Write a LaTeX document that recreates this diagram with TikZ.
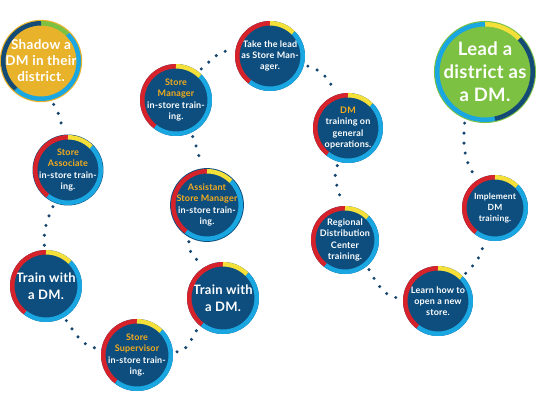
\documentclass[tikz,border=0pt]{standalone}
\usepackage{fontspec}
\setmainfont{Lato}[LetterSpace=2]
\definecolor{navyfill}{HTML}{0D4E7E}
\definecolor{dotblue}{HTML}{16466F}
\definecolor{ringred}{HTML}{D6232B}
\definecolor{ringyellow}{HTML}{F5E03A}
\definecolor{ringblue}{HTML}{1AA6E0}
\definecolor{ringgreen}{HTML}{7DC143}
\definecolor{ringnavy}{HTML}{144A76}
\definecolor{goldfill}{HTML}{E8B22B}
\definecolor{greenfill}{HTML}{7CC142}
\definecolor{headorange}{HTML}{F6AC1B}
\newcommand{\ringarc}[5]{%
  \draw[#3, line width=4.5pt] ([shift={(#4:#2)}]#1.center) arc[start angle=#4, end angle=#5, radius=#2];}
\newcommand{\stdring}[2]{%
  \ringarc{#1}{#2}{ringred}{90}{232}%
  \ringarc{#1}{#2}{ringblue}{232}{405}%
  \ringarc{#1}{#2}{ringyellow}{45}{90}}
\newcommand{\hd}[1]{\textcolor{headorange}{#1}}
\begin{document}
\begin{tikzpicture}[x=1pt,y=1pt,
  stage/.style={circle, fill=navyfill, inner sep=0pt, text=white, align=center,
    font=\fontsize{9}{11.2}\selectfont\bfseries},
  bigtext/.style={font=\fontsize{13}{16.5}\selectfont\bfseries},
  dotpath/.style={draw=dotblue, line width=3.4pt, line cap=round,
    dash pattern=on 0pt off 10pt, shorten <=4pt, shorten >=4pt}]
\useasboundingbox (0,0) rectangle (536,-402);
% nodes
\node[stage, fill=goldfill, minimum size=80pt, font=\fontsize{13.5}{16}\selectfont\bfseries] (shadow) at (41,-61) {Shadow a\\DM in their\\district.};
\node[stage, minimum size=70pt] (assoc) at (68,-170) {\hd{Store}\\\hd{Associate}\\in-store train-\\ing.};
\node[stage, minimum size=72pt, bigtext] (train1) at (46,-286) {Train with\\a DM.};
\node[stage, minimum size=72pt] (super) at (137,-355) {\hd{Store}\\\hd{Supervisor}\\in-store train-\\ing.};
\node[stage, minimum size=72pt, bigtext] (train2) at (223,-298) {Train with\\a DM.};
\node[stage, minimum size=72pt] (asst) at (207,-205) {\hd{Assistant}\\\hd{Store Manager}\\in-store train-\\ing.};
\node[stage, minimum size=72pt] (mgr) at (176,-100) {\hd{Store}\\\hd{Manager}\\in-store train-\\ing.};
\node[stage, minimum size=70pt] (take) at (270,-56) {Take the lead\\as Store Man-\\ager.};
\node[stage, minimum size=70pt] (dm) at (348,-128) {\hd{DM}\\training on\\general\\operations.};
\node[stage, minimum size=68pt] (reg) at (345,-240) {Regional\\Distribution\\Center\\training.};
\node[stage, minimum size=70pt] (learn) at (438,-301) {Learn how to\\open a new\\store.};
\node[stage, minimum size=66pt, font=\fontsize{8.5}{10.7}\selectfont\bfseries] (impl) at (495,-208) {Implement\\DM\\training.};
\node[stage, fill=greenfill, minimum size=100pt, font=\fontsize{18.5}{23}\selectfont\bfseries] (lead) at (485,-72) {Lead a\\district as\\a DM.};
% rings
\ringarc{shadow}{37.75}{ringgreen}{45}{90}
\ringarc{shadow}{37.75}{ringblue}{-132}{45}
\ringarc{shadow}{37.75}{ringnavy}{90}{228}
\stdring{assoc}{32.75}
\stdring{train1}{33.75}
\stdring{super}{33.75}
\stdring{train2}{33.75}
\stdring{asst}{33.75}
\stdring{mgr}{33.75}
\stdring{take}{32.75}
\stdring{dm}{32.75}
\stdring{reg}{31.75}
\stdring{learn}{32.75}
\stdring{impl}{30.75}
\ringarc{lead}{47.75}{ringyellow}{44}{90}
\ringarc{lead}{47.75}{ringblue}{90}{282}
\ringarc{lead}{47.75}{ringnavy}{-78}{44}
% dotted connectors
\draw[dotpath] (shadow.-75) to[out=-60, in=90] (assoc.100);
\draw[dotpath] (assoc.-112) to[out=-115, in=95] (train1.92);
\draw[dotpath] (train1.-60) to[out=-55, in=175] (super.170);
\draw[dotpath] (super.5) to[out=0, in=-125] (train2.-130);
\draw[dotpath] (asst.-118) to[out=-100, in=150] (train2.118);
\draw[dotpath] (mgr.-65) to[out=-70, in=95] (asst.100);
\draw[dotpath] (mgr.52) to[out=40, in=175] (take.172);
\draw[dotpath] (take.-15) to[out=-15, in=105] (dm.112);
\draw[dotpath] (dm.-105) to[out=-115, in=100] (reg.95);
\draw[dotpath] (reg.-50) to[out=-60, in=180] (learn.175);
\draw[dotpath] (learn.45) to[out=45, in=-95] (impl.-110);
\draw[dotpath] (lead.-113) to[out=-95, in=125] (impl.122);
\end{tikzpicture}
\end{document}
